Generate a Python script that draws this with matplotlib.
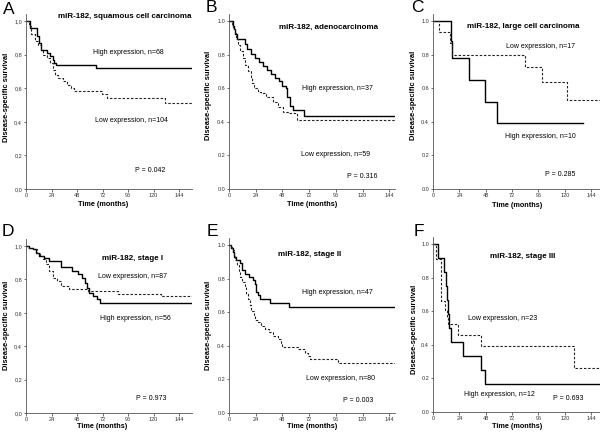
import matplotlib as mtl
mtl.use('Agg')
import matplotlib.pyplot as plt

plt.rcParams['font.family'] = ['Liberation Sans', 'DejaVu Sans']

W, H = 600, 433

### DATA (months, survival) ###
A_high_t = [0, 3.8, 10.7, 12.5, 13.8, 19.5, 22.6, 25, 26.3, 28, 65.9, 156]
A_high_s = [1.0, 0.956, 0.913, 0.868, 0.827, 0.81, 0.79, 0.77, 0.75, 0.74, 0.72, 0.72]
A_low_t = [0, 3, 5, 8.5, 11, 13.8, 16.3, 19.5, 22.6, 25, 27, 30.5, 35, 38.8, 42.5, 45, 71, 76.5, 131, 156]
A_low_s = [1.0, 0.97, 0.92, 0.88, 0.86, 0.82, 0.80, 0.78, 0.75, 0.71, 0.68, 0.66, 0.64, 0.62, 0.60, 0.585, 0.565, 0.54, 0.51, 0.51]

B_high_t = [0, 3.6, 4.6, 5.7, 7.5, 14.1, 16.5, 20, 23, 26.7, 30.6, 34.5, 37.5, 41, 45, 47.7, 51.6, 52.5, 54.6, 57, 67.5, 149]
B_high_s = [1.0, 0.97, 0.95, 0.92, 0.893, 0.865, 0.835, 0.805, 0.78, 0.753, 0.73, 0.706, 0.686, 0.66, 0.64, 0.614, 0.6, 0.55, 0.495, 0.47, 0.435, 0.435]
B_low_t = [0, 3, 4, 5, 6.6, 8, 10, 12.6, 14.7, 17, 19.5, 21, 22.5, 26, 29, 33.6, 39.6, 44, 48.6, 53, 60.6, 149]
B_low_s = [1.0, 0.97, 0.95, 0.93, 0.89, 0.86, 0.82, 0.78, 0.74, 0.70, 0.66, 0.63, 0.60, 0.58, 0.57, 0.55, 0.52, 0.49, 0.46, 0.455, 0.41, 0.41]

C_high_t = [0, 16.3, 17.5, 32.7, 47.5, 58, 136.7]
C_high_s = [1.0, 0.88, 0.779, 0.648, 0.519, 0.39, 0.39]
C_low_t = [0, 5.4, 15.7, 17.5, 83.8, 99, 121.6, 152]
C_low_s = [1.0, 0.934, 0.869, 0.80, 0.726, 0.636, 0.53, 0.53]

D_high_t = [0, 3, 7, 9.4, 12.5, 17, 22, 32.6, 43, 49, 53, 55.5, 57.7, 59.6, 63, 66.5, 70, 157]
D_high_s = [1.0, 0.99, 0.98, 0.96, 0.94, 0.93, 0.91, 0.872, 0.85, 0.83, 0.81, 0.78, 0.75, 0.72, 0.70, 0.68, 0.66, 0.66]
D_low_t = [0, 2, 7, 10, 13, 16, 19, 22, 25, 29, 33, 40, 58.6, 86, 126.7, 157]
D_low_s = [1.0, 0.99, 0.98, 0.96, 0.94, 0.92, 0.89, 0.85, 0.81, 0.79, 0.76, 0.74, 0.73, 0.715, 0.70, 0.665]

E_high_t = [0, 2, 3.6, 4.5, 6.6, 9.6, 12, 14.7, 18, 21.6, 23.7, 24.6, 26, 27.6, 36.6, 53.7, 149]
E_high_s = [1.0, 0.98, 0.96, 0.93, 0.91, 0.89, 0.85, 0.83, 0.81, 0.79, 0.77, 0.72, 0.70, 0.68, 0.657, 0.63, 0.63]
E_low_t = [0, 2, 2.7, 4.5, 5.7, 7.5, 9, 10, 12, 14, 15.6, 17, 18.6, 20, 22, 23, 26, 29, 32.7, 35.7, 39.6,
           44, 46.5, 47.7, 62, 68, 71, 72.6, 97.5, 149]
E_low_s = [1.0, 0.99, 0.97, 0.94, 0.91, 0.88, 0.84, 0.81, 0.78, 0.75, 0.71, 0.68, 0.64, 0.61, 0.58, 0.555,
           0.54, 0.52, 0.50, 0.48, 0.46, 0.44, 0.41, 0.39, 0.38, 0.36, 0.34, 0.32, 0.298, 0.298]

F_high_t = [0, 4.6, 10, 11.6, 12.5, 13.2, 14.7, 16.2, 27.6, 43.5, 47.5, 151.7]
F_high_s = [1.0, 0.917, 0.833, 0.75, 0.667, 0.583, 0.50, 0.417, 0.333, 0.25, 0.167, 0.167]
F_low_t = [0, 3, 7.7, 10.7, 12.3, 13.8, 23, 43.5, 128, 152.6]
F_low_s = [1.0, 0.913, 0.66, 0.61, 0.565, 0.523, 0.457, 0.39, 0.262, 0.262]

ticks_x = [0, 24, 48, 72, 96, 120, 144]
ticks_y = [0.0, 0.2, 0.4, 0.6, 0.8, 1.0]

# one dict per panel: axes box in pixels (left, bottom, right), y of 1.0, x limit, decimal sign, text spots
panels = [
    dict(letter='A', title='miR-182, squamous cell carcinoma',
         high=(A_high_t, A_high_s), low=(A_low_t, A_low_s),
         hl='High expression, n=68', ll='Low expression, n=104', p='P = 0.042',
         box=(26, 189, 192), y1=21, xmax=156, sep=',',
         pos=dict(letter=(3, 9), title=(125, 17), hl=(128, 53), ll=(131, 121), p=(150, 171),
                  xl=(103, 205), yl=(7, 97))),
    dict(letter='B', title='miR-182, adenocarcinoma',
         high=(B_high_t, B_high_s), low=(B_low_t, B_low_s),
         hl='High expression, n=37', ll='Low expression, n=59', p='P = 0.316',
         box=(229, 189, 395), y1=21, xmax=149, sep='.',
         pos=dict(letter=(206, 8), title=(329, 27), hl=(337, 89), ll=(336, 154), p=(362, 177),
                  xl=(312, 205), yl=(209, 95))),
    dict(letter='C', title='miR-182, large cell carcinoma',
         high=(C_high_t, C_high_s), low=(C_low_t, C_low_s),
         hl='High expression, n=10', ll='Low expression, n=17', p='P = 0.285',
         box=(433, 189, 600), y1=21, xmax=152, sep='.',
         pos=dict(letter=(411, 8), title=(523, 26), hl=(540, 137), ll=(541, 46), p=(560, 174),
                  xl=(517, 206), yl=(414, 95))),
    dict(letter='D', title='miR-182, stage I',
         high=(D_high_t, D_high_s), low=(D_low_t, D_low_s),
         hl='High expression, n=56', ll='Low expression, n=87', p='P = 0.973',
         box=(26, 413, 192), y1=246, xmax=156, sep=',',
         pos=dict(letter=(2, 231), title=(133, 258), hl=(135, 319), ll=(133, 276), p=(151, 399),
                  xl=(102, 426), yl=(7, 325))),
    dict(letter='E', title='miR-182, stage II',
         high=(E_high_t, E_high_s), low=(E_low_t, E_low_s),
         hl='High expression, n=47', ll='Low expression, n=80', p='P = 0.003',
         box=(229, 413, 395), y1=245, xmax=149, sep='.',
         pos=dict(letter=(207, 232), title=(310, 255), hl=(337, 292), ll=(340, 379), p=(358, 401),
                  xl=(312, 426), yl=(209, 325))),
    dict(letter='F', title='miR-182, stage III',
         high=(F_high_t, F_high_s), low=(F_low_t, F_low_s),
         hl='High expression, n=12', ll='Low expression, n=23', p='P = 0.693',
         box=(433, 412, 600), y1=244, xmax=152, sep='.',
         pos=dict(letter=(414, 232), title=(523, 256), hl=(499, 394), ll=(503, 318), p=(568, 399),
                  xl=(517, 426), yl=(415, 329))),
]

fig = plt.figure(figsize=(W / 100, H / 100), dpi=100)


def ftext(xy, s, ha='center', **kw):
	fig.text(xy[0] / W, 1 - xy[1] / H, s, ha=ha, va='center', **kw)


YTOP = 1.04
for pn in panels:
	x0, y0, x1 = pn['box']
	ppu = y0 - pn['y1']
	ax = fig.add_axes([x0 / W, 1 - y0 / H, (x1 - x0) / W, ppu * YTOP / H])
	ax.step(pn['high'][0], pn['high'][1], where='post', color='black', lw=1.0)
	ax.step(pn['low'][0], pn['low'][1], where='post', color='#222222', lw=0.8,
	        linestyle=(0, (2.2, 1.6)))
	ax.set_xlim(0, pn['xmax'])
	ax.set_ylim(0, YTOP)
	ax.set_xticks(ticks_x)
	ax.set_yticks(ticks_y)
	ax.set_yticklabels([('%.1f' % v).replace('.', pn['sep']) for v in ticks_y])
	for s in ['top', 'right']:
		ax.spines[s].set_visible(False)
	for s in ['left', 'bottom']:
		ax.spines[s].set_linewidth(0.6)
		ax.spines[s].set_color('#555555')
	ax.tick_params(length=1.8, width=0.5, pad=1.0, labelsize=4.0, colors='#333333')
	ax.patch.set_alpha(0)

	p = pn['pos']
	ftext(p['letter'], pn['letter'], ha='left', fontsize=12.5)
	ftext(p['title'], pn['title'], fontsize=5.8, fontweight='bold')
	ftext(p['hl'], pn['hl'], fontsize=5.0)
	ftext(p['ll'], pn['ll'], fontsize=5.0)
	ftext(p['p'], pn['p'], fontsize=5.0)
	ftext(p['xl'], 'Time (months)', fontsize=5.2, fontweight='bold')
	ftext(p['yl'], 'Disease-specific survival', fontsize=5.4, fontweight='bold', rotation=90)

fig.savefig('out.png', dpi=100)
